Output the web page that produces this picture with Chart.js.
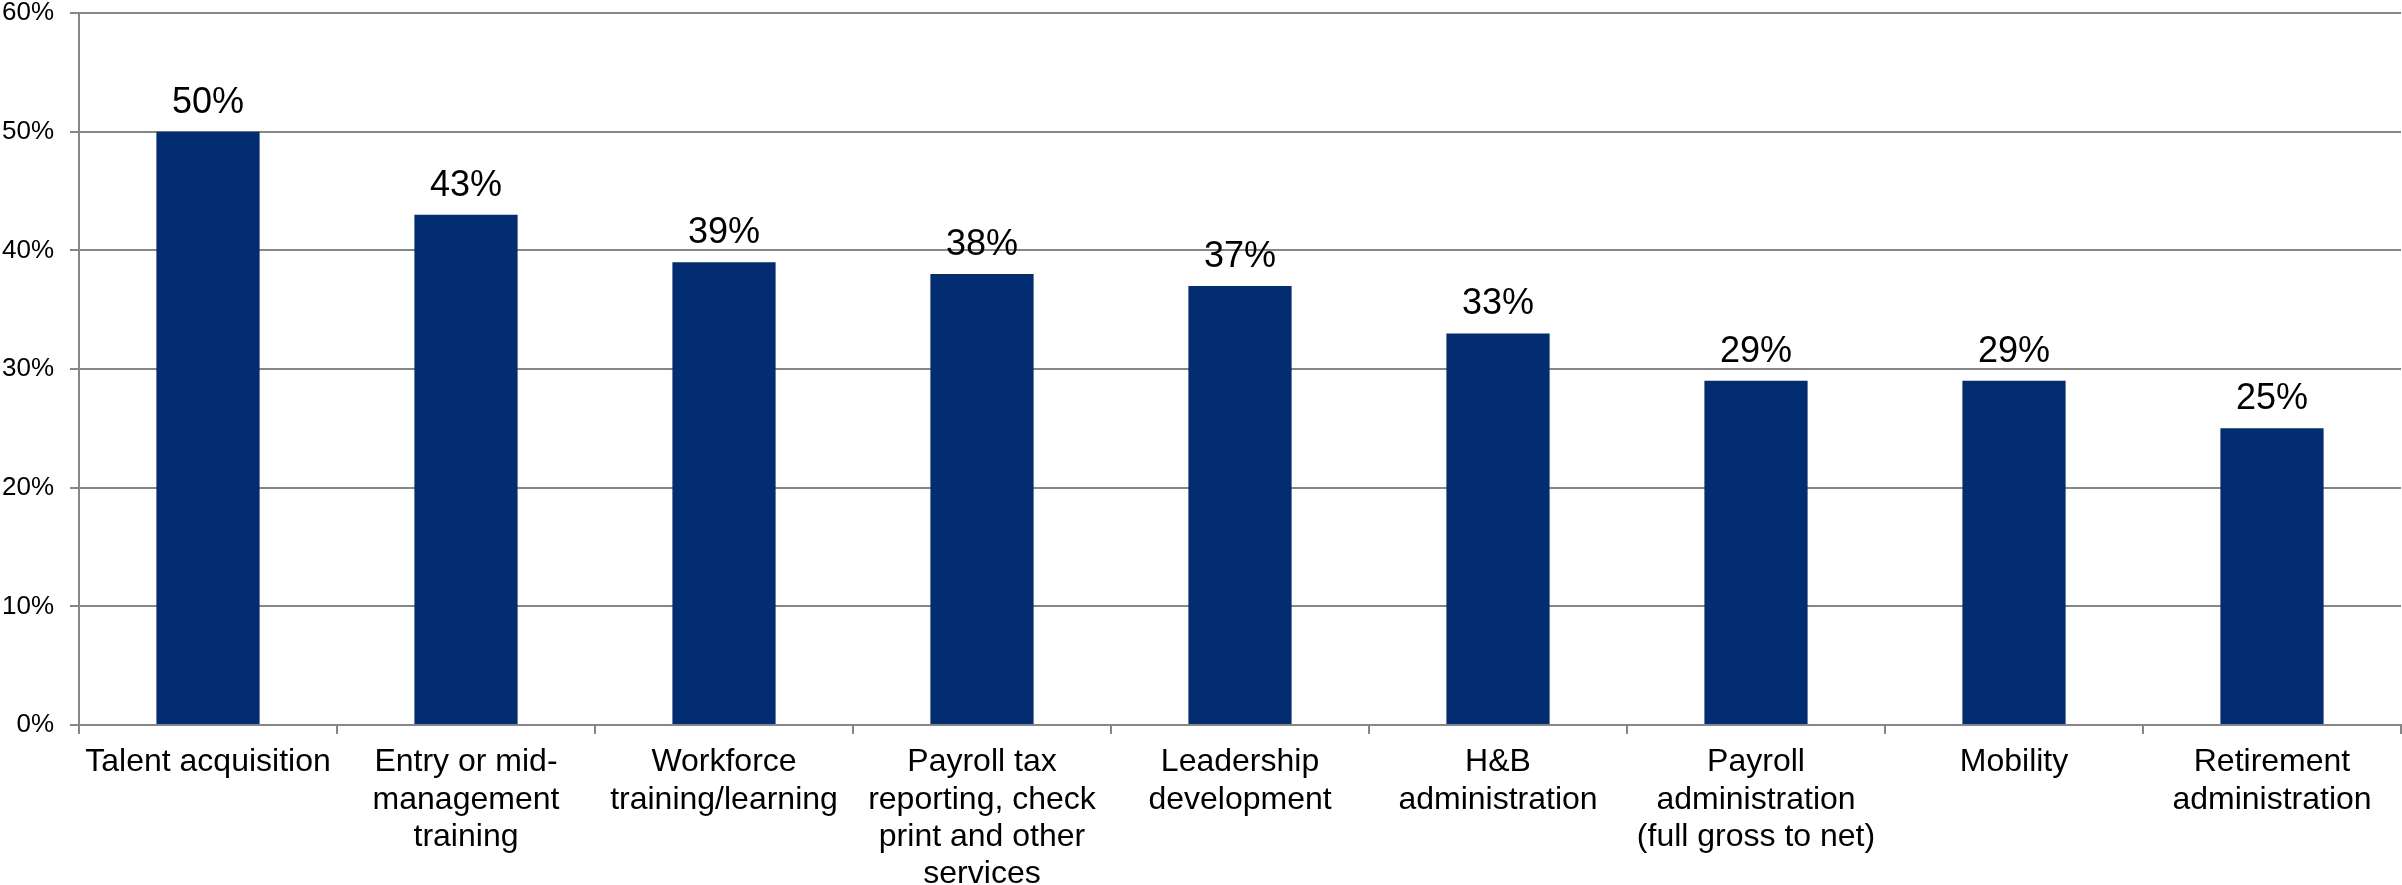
<!DOCTYPE html>
<html>
<head>
<meta charset="utf-8">
<script src="https://cdn.jsdelivr.net/npm/chart.js@4/dist/chart.umd.min.js"></script>
<style>
  html, body { margin: 0; padding: 0; background: #ffffff; }
  #wrap { width: 2402px; height: 885px; }
</style>
</head>
<body>
<div id="wrap"><canvas id="chart" width="2402" height="885"></canvas></div>
<script>
// Share of respondents per HR service area
const categories = [
  ["Talent acquisition"],
  ["Entry or mid-", "management", "training"],
  ["Workforce", "training/learning"],
  ["Payroll tax", "reporting, check", "print and other", "services"],
  ["Leadership", "development"],
  ["H&B", "administration"],
  ["Payroll", "administration", "(full gross to net)"],
  ["Mobility"],
  ["Retirement", "administration"]
];
const shares = [50, 43, 39, 38, 37, 33, 29, 29, 25];
const yTicks = [0, 10, 20, 30, 40, 50, 60];

const FONT = "'Liberation Sans', Arial, Helvetica, sans-serif";
const GRID = "#868686";

// Writes each bar's value just above it
const valueLabels = {
  id: "valueLabels",
  afterDatasetsDraw(chart) {
    const ctx = chart.ctx;
    const meta = chart.getDatasetMeta(0);
    ctx.save();
    ctx.font = "36px " + FONT;
    ctx.fillStyle = "#000000";
    ctx.textAlign = "center";
    ctx.textBaseline = "alphabetic";
    meta.data.forEach((bar, i) => {
      ctx.fillText(shares[i] + "%", bar.x, bar.y - 19);
    });
    ctx.restore();
  }
};

new Chart(document.getElementById("chart"), {
  type: "bar",
  data: {
    labels: categories,
    datasets: [{
      data: shares,
      backgroundColor: "#022D73",
      borderWidth: 0,
      categoryPercentage: 1.0,
      barPercentage: 0.4
    }]
  },
  options: {
    responsive: false,
    devicePixelRatio: 1,
    animation: false,
    layout: { padding: { top: 0, right: 1, left: 0, bottom: 0 } },
    plugins: {
      legend: { display: false },
      tooltip: { enabled: false }
    },
    scales: {
      x: {
        offset: true,
        grid: {
          offset: true,
          drawOnChartArea: false,
          drawTicks: true,
          tickLength: 9,
          color: GRID,
          lineWidth: 2
        },
        border: { color: GRID, width: 2 },
        ticks: {
          color: "#000000",
          font: { family: FONT, size: 32, lineHeight: 1.16 },
          padding: 10,
          maxRotation: 0,
          autoSkip: false
        },
        afterFit(scale) { scale.height = 160; }
      },
      y: {
        min: 0,
        max: 60,
        afterBuildTicks(scale) { scale.ticks = yTicks.map(v => ({ value: v })); },
        grid: {
          color: GRID,
          lineWidth: 2,
          tickLength: 9
        },
        border: { color: GRID, width: 2 },
        ticks: {
          color: "#000000",
          font: { family: FONT, size: 26, lineHeight: 1 },
          padding: 16,
          callback: v => v + "%"
        },
        afterFit(scale) {
          scale.width = 79;
          scale.paddingTop = 13;
          scale.paddingBottom = 0;
        }
      }
    }
  },
  plugins: [valueLabels]
});
</script>
</body>
</html>
